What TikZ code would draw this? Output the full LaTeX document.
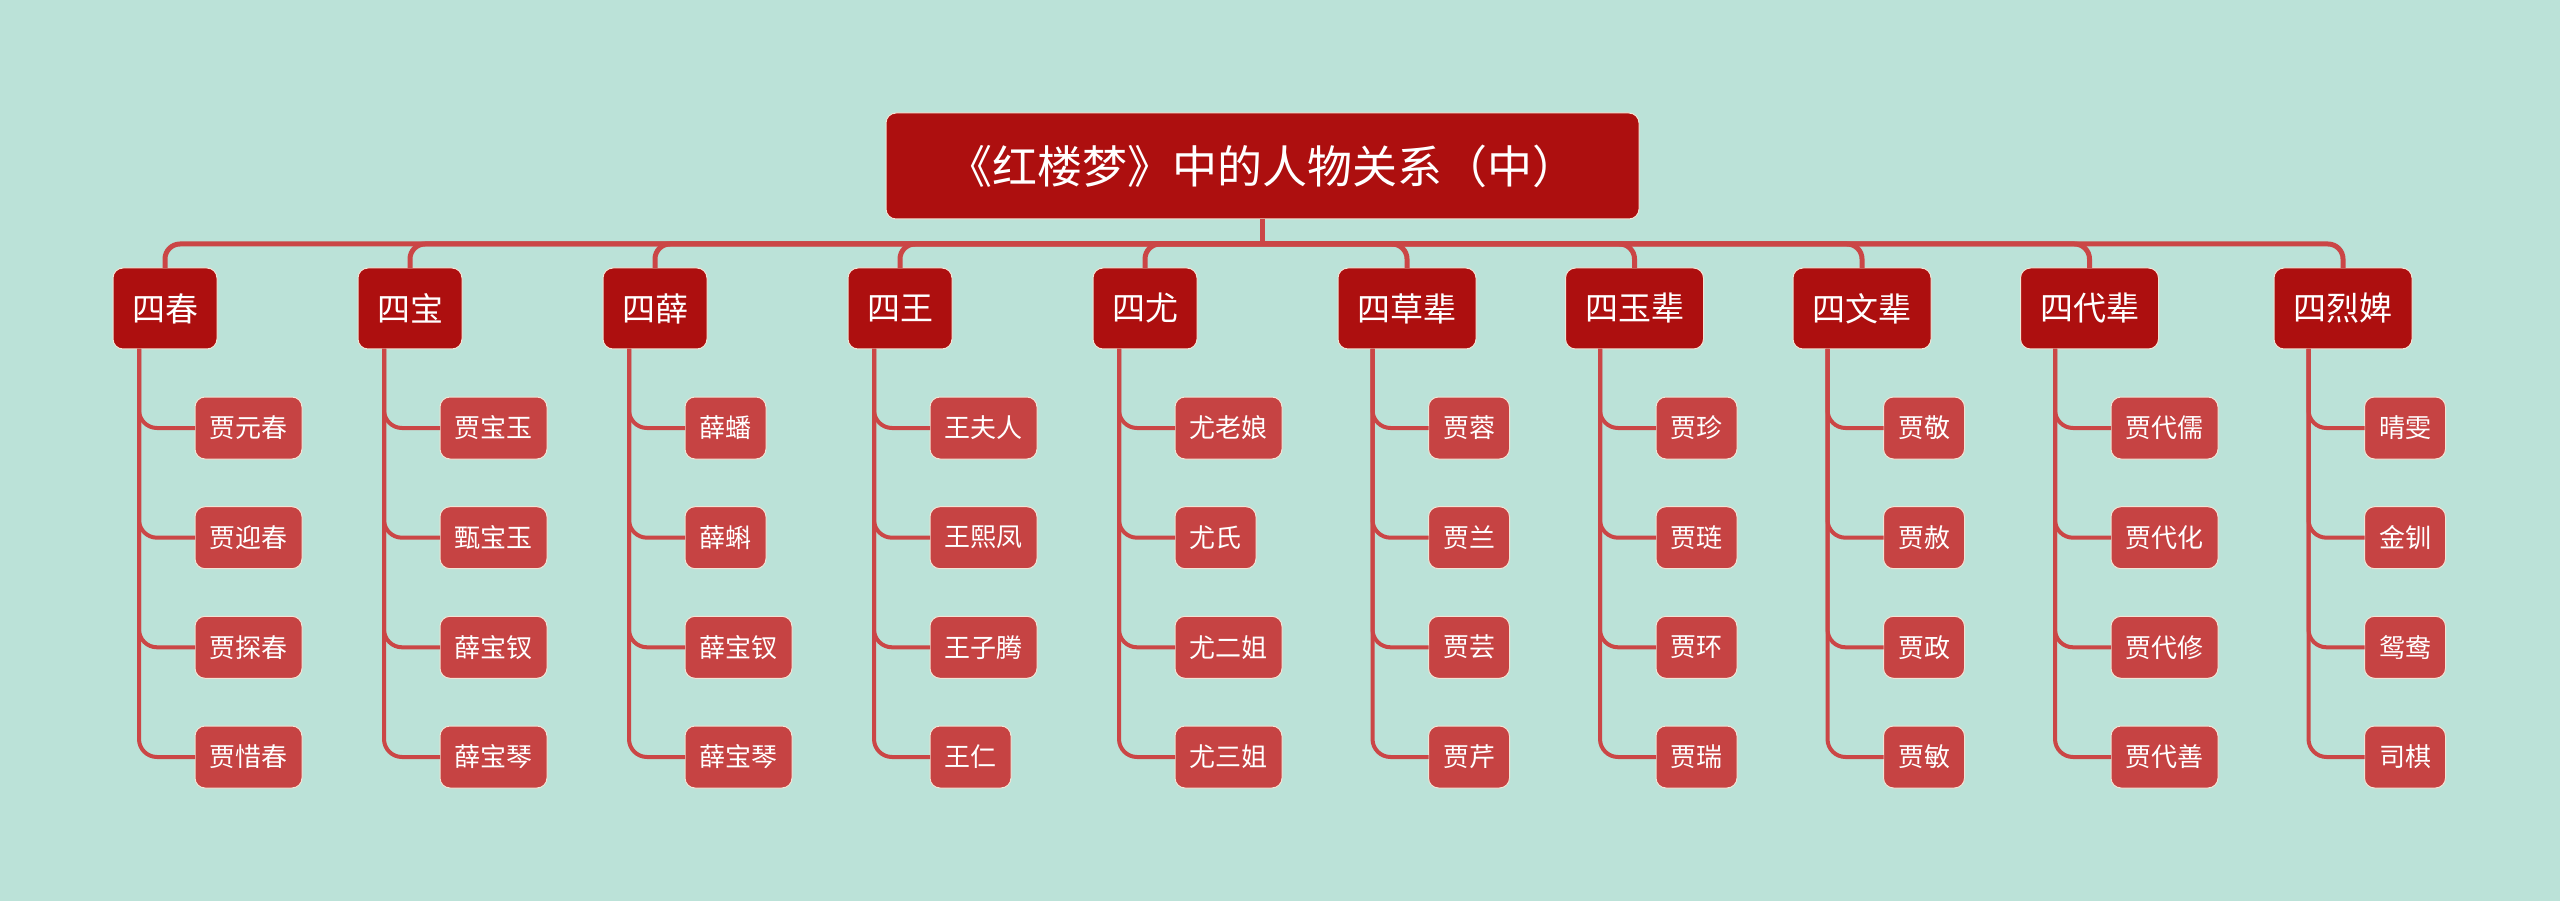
\documentclass[tikz,border=0pt]{standalone}
\usepackage{fontspec}
\newfontfamily\cjk{Noto Sans CJK SC}
\usepackage{tikz}
\usetikzlibrary{positioning, calc}
\definecolor{bgmint}{HTML}{BBE2D8}
\definecolor{darkred}{HTML}{AD0F0F}
\definecolor{kidred}{HTML}{C64343}
\definecolor{linered}{HTML}{CB4646}
\definecolor{rim}{HTML}{F2E3D5}

\begin{document}
\begin{tikzpicture}[x=1pt, y=-1pt,
    root/.style={draw=rim, line width=1pt, fill=darkred, rounded corners=10pt, text=white, minimum width=753pt, minimum height=106pt, outer sep=0pt, font=\cjk\fontsize{45pt}{45pt}\selectfont},
    group/.style={draw=rim, line width=1pt, fill=darkred, rounded corners=10pt, text=white, minimum height=81pt, inner xsep=0pt, outer sep=0pt, font=\cjk\fontsize{33pt}{33pt}\selectfont},
    kid/.style={draw=rim, line width=1pt, fill=kidred, rounded corners=10pt, text=white, minimum height=62pt, inner xsep=14.5pt, outer sep=0pt, font=\cjk\fontsize{26pt}{26pt}\selectfont},
    bus/.style={draw=linered, line width=5pt, rounded corners=15pt},
    link/.style={draw=linered, line width=4pt, rounded corners=18pt}]
    % 背景
    \fill[bgmint] (0,0) rectangle (2560,901);
    \useasboundingbox (0,0) rectangle (2560,901);

    % 中心主题
    \node[root] (title) at (1262.5,166) {《红楼梦》中的人物关系（中）};
    \coordinate (hub) at (title.south |- 0,244);

    % 第一层: 十组 (right=... of 前一组)
    \node[group, minimum width=104pt] (chun) at (165,308.5) {四春};
    \node[group, minimum width=104pt, right=141pt of chun] (bao) {四宝};
    \node[group, minimum width=104pt, right=141pt of bao] (xue) {四薛};
    \node[group, minimum width=104pt, right=141pt of xue] (wang) {四王};
    \node[group, minimum width=104pt, right=141pt of wang] (you) {四尤};
    \node[group, minimum width=138pt, right=141pt of you] (cao) {四草辈};
    \node[group, minimum width=138pt, right=89.5pt of cao] (yu) {四玉辈};
    \node[group, minimum width=138pt, right=89.5pt of yu] (wen) {四文辈};
    \node[group, minimum width=138pt, right=89.5pt of wen] (dai) {四代辈};
    \node[group, minimum width=138pt, right=115.5pt of dai] (lie) {四烈婢};

    % 主干连线
    \draw[bus] (title) -- (hub);
    \foreach \g in {chun,bao,xue,wang,you,cao,yu,wen,dai,lie}
        \draw[bus] (hub) -| (\g.north);

    % 第二层: 每组四人
    \foreach \g/\na/\nb/\nc/\nd in {chun/贾元春/贾迎春/贾探春/贾惜春, bao/贾宝玉/甄宝玉/薛宝钗/薛宝琴,
        xue/薛蟠/薛蝌/薛宝钗/薛宝琴, wang/王夫人/王熙凤/王子腾/王仁, you/尤老娘/尤氏/尤二姐/尤三姐,
        cao/贾蓉/贾兰/贾芸/贾芹, yu/贾珍/贾琏/贾环/贾瑞, wen/贾敬/贾赦/贾政/贾敏,
        dai/贾代儒/贾代化/贾代修/贾代善, lie/晴雯/金钏/鸳鸯/司棋} {
        \coordinate (\g-v) at ($(\g.south west)!.25!(\g.south east)$);
        \foreach \n/\y [count=\i] in {\na/428, \nb/537.7, \nc/647.3, \nd/757} {
            \node[kid, anchor=west] (\g-\i) at ([xshift=56pt]\g-v |- 0,\y) {\n};
            \draw[link] (\g-v) |- (\g-\i);
        }
    }
\end{tikzpicture}
\end{document}
